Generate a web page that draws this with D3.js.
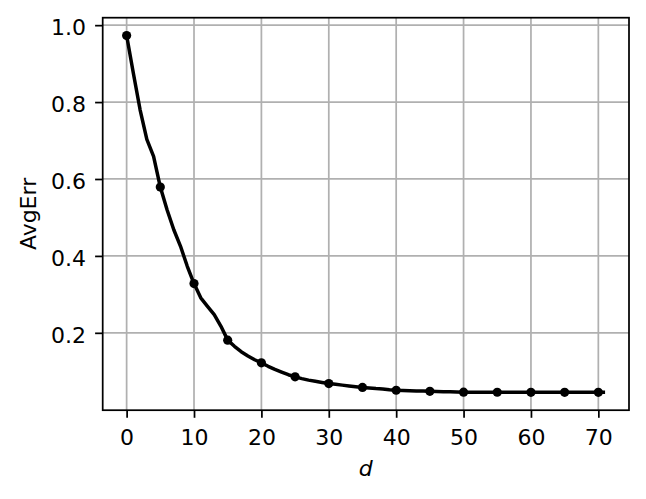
<!DOCTYPE html>
<html>
<head>
<meta charset="utf-8">
<script src="https://cdn.jsdelivr.net/npm/d3@7/dist/d3.min.js"></script>
<style>
  html, body { margin: 0; padding: 0; background: #fff; }
  svg { display: block; font-family: "DejaVu Sans", sans-serif; }
</style>
</head>
<body>
<svg id="chart" width="646" height="499"></svg>
<script>
// Dimension d (0..71) and average error
const dValues = [
  0, 1, 2, 3, 4, 5, 6, 7, 8, 9, 10, 11, 12, 13, 14, 15, 16, 17, 18, 19, 20,
  21, 22, 23, 24, 25, 26, 27, 28, 29, 30, 31, 32, 33, 34, 35, 36, 37, 38, 39, 40,
  41, 42, 43, 44, 45, 46, 47, 48, 49, 50, 51, 52, 53, 54, 55, 56, 57, 58, 59, 60,
  61, 62, 63, 64, 65, 66, 67, 68, 69, 70, 71
];
const avgErr = [
  0.973, 0.875, 0.780, 0.703, 0.659, 0.579, 0.520, 0.468, 0.425, 0.373, 0.328,
  0.291, 0.269, 0.2475, 0.217, 0.181, 0.165, 0.151, 0.140, 0.130, 0.122,
  0.113, 0.105, 0.098, 0.091, 0.0855, 0.081, 0.077, 0.074, 0.071, 0.068,
  0.066, 0.064, 0.062, 0.060, 0.0580, 0.0565, 0.055, 0.054, 0.052, 0.0507,
  0.0500, 0.0495, 0.0490, 0.0485, 0.0480, 0.0475, 0.0470, 0.0465, 0.0460, 0.0457,
  0.0456, 0.0455, 0.0455, 0.0455, 0.0455, 0.0455, 0.0454, 0.0454, 0.0454, 0.0454,
  0.0453, 0.0453, 0.0453, 0.0453, 0.0452, 0.0452, 0.0452, 0.0452, 0.0452, 0.0452, 0.0452
];
const markerEvery = 5;
const xTicks = [0, 10, 20, 30, 40, 50, 60, 70];
const yTicks = [0.2, 0.4, 0.6, 0.8, 1.0];
const xLabel = "d";
const yLabel = "AvgErr";

const svg = d3.select("#chart");
const L = 102.7, R = 629, T = 17.7, B = 410.2;
const pxPerPt = 2.17;

const xMin = d3.min(dValues), xMax = d3.max(dValues);
const xPad = (xMax - xMin) * 0.05;
const yMin = d3.min(avgErr), yMax = d3.max(avgErr);
const yPad = (yMax - yMin) * 0.05;

const x = d3.scaleLinear().domain([xMin - xPad, xMax + xPad]).range([L, R]);
const y = d3.scaleLinear().domain([yMin - yPad, yMax + yPad]).range([B, T]);

const gridW = 0.8 * pxPerPt;
const g = svg.append("g");

// grid
g.append("g").selectAll("line").data(xTicks).join("line")
  .attr("x1", d => x(d)).attr("x2", d => x(d)).attr("y1", T).attr("y2", B)
  .attr("stroke", "#b0b0b0").attr("stroke-width", gridW);
g.append("g").selectAll("line").data(yTicks).join("line")
  .attr("y1", d => y(d)).attr("y2", d => y(d)).attr("x1", L).attr("x2", R)
  .attr("stroke", "#b0b0b0").attr("stroke-width", gridW);

// data line
const pts = dValues.map((d, i) => [d, avgErr[i]]);
g.append("path")
  .datum(pts)
  .attr("fill", "none")
  .attr("stroke", "#000")
  .attr("stroke-width", 3.5)
  .attr("stroke-linejoin", "round")
  .attr("stroke-linecap", "butt")
  .attr("d", d3.line().x(p => x(p[0])).y(p => y(p[1])));

g.append("g").selectAll("circle")
  .data(pts.filter(p => p[0] % markerEvery === 0))
  .join("circle")
  .attr("cx", p => x(p[0])).attr("cy", p => y(p[1]))
  .attr("r", 4.6).attr("fill", "#000");

// axes
const fontPx = 22;
const xAxis = d3.axisBottom(x).tickValues(xTicks).tickFormat(d3.format("d"))
  .tickSizeInner(3.5 * pxPerPt).tickSizeOuter(0).tickPadding(12);
const yAxis = d3.axisLeft(y).tickValues(yTicks).tickFormat(d3.format(".1f"))
  .tickSizeInner(3.5 * pxPerPt).tickSizeOuter(0).tickPadding(9);

const gx = svg.append("g").attr("transform", `translate(0,${B})`).call(xAxis);
const gy = svg.append("g").attr("transform", `translate(${L},0)`).call(yAxis);
[gx, gy].forEach(a => {
  a.select(".domain").remove();
  a.selectAll(".tick line").attr("stroke", "#000").attr("stroke-width", gridW);
  a.selectAll(".tick text").attr("fill", "#000")
    .style("font-family", "'DejaVu Sans', sans-serif").style("font-size", fontPx + "px");
});
gx.selectAll(".tick text").attr("dy", "0.71em");
gy.selectAll(".tick text").attr("dy", "0.42em");

// spines
svg.append("rect").attr("x", L).attr("y", T).attr("width", R - L).attr("height", B - T)
  .attr("fill", "none").attr("stroke", "#000").attr("stroke-width", gridW);

// labels
svg.append("text").attr("x", (L + R) / 2).attr("y", 476)
  .attr("text-anchor", "middle").style("font-size", fontPx + "px")
  .style("font-style", "italic").text(xLabel);
svg.append("text")
  .attr("transform", `translate(36,${(T + B) / 2}) rotate(-90)`)
  .attr("text-anchor", "middle").style("font-size", fontPx + "px").text(yLabel);
</script>
</body>
</html>
